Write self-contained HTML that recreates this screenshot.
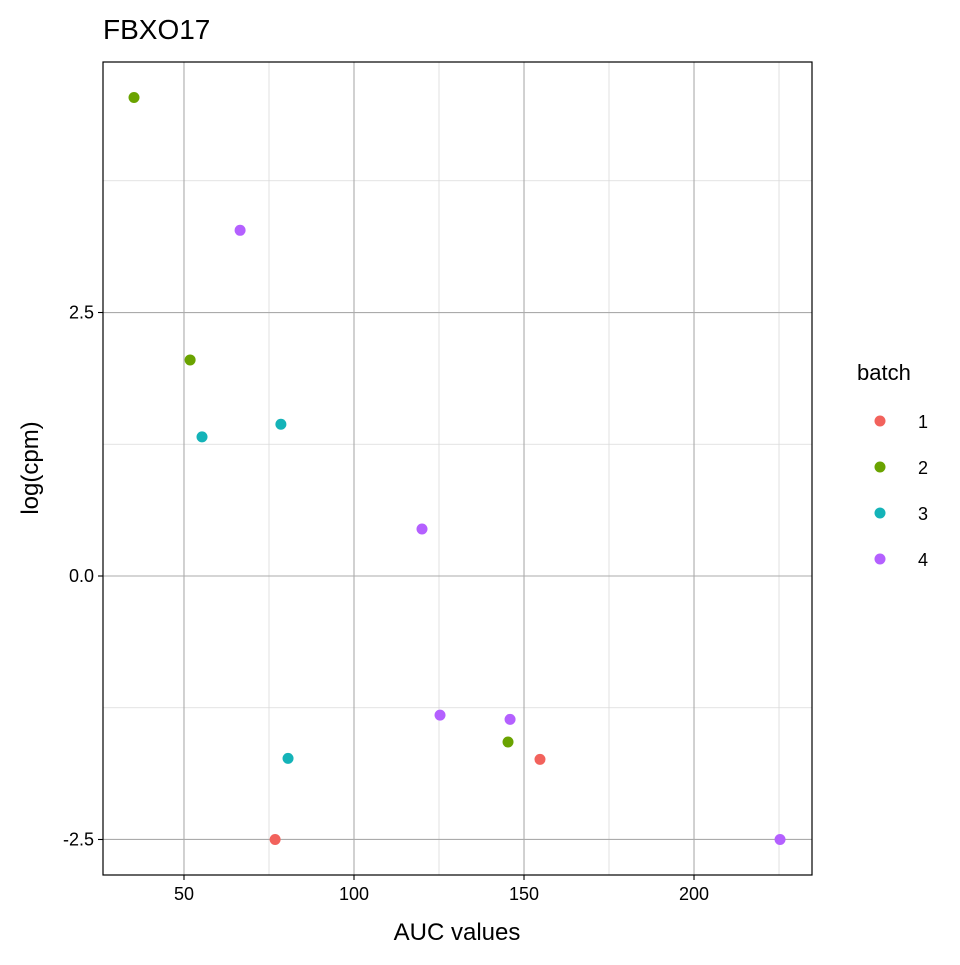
<!DOCTYPE html>
<html><head><meta charset="utf-8"><style>
body{margin:0;background:#fff;}
svg text{font-family:"Liberation Sans",Arial,sans-serif;}
</style></head><body>
<svg id="chart" width="960" height="960" viewBox="0 0 960 960">
<rect width="960" height="960" fill="#fff"/>
<g id="grid"></g>
<g id="points"></g>
<rect x="103" y="62" width="709" height="813" fill="none" stroke="#000" stroke-width="1.2"/>
<g id="ticks"></g>
<text x="103" y="39" font-size="28" fill="#000">FBXO17</text>
<text x="457" y="940" font-size="24" text-anchor="middle" fill="#000">AUC values</text>
<text transform="translate(38,468) rotate(-90)" font-size="24" text-anchor="middle" fill="#000">log(cpm)</text>
<g id="legend">
<text x="857" y="380" font-size="22" fill="#000">batch</text>
</g>
</svg>
<script>
const xs = [76.8,154.7,35.3,51.8,145.3,55.3,78.5,80.6,66.5,120.0,125.3,145.9,225.3];
const ys = [-2.50,-1.74,4.54,2.05,-1.575,1.32,1.44,-1.73,3.28,0.446,-1.32,-1.36,-2.50];
const batches = [1,1,2,2,2,3,3,3,4,4,4,4,4];
const batchLabels = ["1","2","3","4"];
const xTicks = [50,100,150,200];
const xMinor = [25,75,125,175,225];
const yTicks = [-2.5,0,2.5];
const yTickLabels = ["-2.5","0.0","2.5"];
const yMinor = [-1.25,1.25,3.75];
const colors = ["#F2625C","#6AA300","#14B3B8","#B460FF"];
const NS="http://www.w3.org/2000/svg";
const PL=103,PR=812,PT=62,PB=875;
const X0=26.18,X1=234.7,Y0=-2.837,Y1=4.877;
const sx=v=>PL+(v-X0)/(X1-X0)*(PR-PL);
const sy=v=>PB-(v-Y0)/(Y1-Y0)*(PB-PT);
function mk(tag,attrs,parent){const e=document.createElementNS(NS,tag);for(const k in attrs)e.setAttribute(k,attrs[k]);parent.appendChild(e);return e;}
const grid=document.getElementById('grid'),ticks=document.getElementById('ticks'),pts=document.getElementById('points'),leg=document.getElementById('legend');
xMinor.forEach(v=>{if(sx(v)<PL||sx(v)>PR)return;const l=mk('line',{x1:sx(v),x2:sx(v),y1:PT,y2:PB,stroke:'#d9d9d9','stroke-width':0.8},grid);

});
yMinor.forEach(v=>{const l=mk('line',{x1:PL,x2:PR,y1:sy(v),y2:sy(v),stroke:'#d9d9d9','stroke-width':0.8},grid);

});
xTicks.forEach(v=>{const l=mk('line',{x1:sx(v),x2:sx(v),y1:PT,y2:PB,stroke:'#ababab','stroke-width':1.1},grid);


const t=mk('line',{x1:sx(v),x2:sx(v),y1:PB,y2:PB+5,stroke:'#000','stroke-width':1.1},ticks);


const tx=mk('text',{x:sx(v),y:PB+25,'font-size':18,'text-anchor':'middle',fill:'#000'},ticks);tx.textContent=String(v);

});
yTicks.forEach((v,i)=>{const l=mk('line',{x1:PL,x2:PR,y1:sy(v),y2:sy(v),stroke:'#ababab','stroke-width':1.1},grid);


const t=mk('line',{x1:PL-5,x2:PL,y1:sy(v),y2:sy(v),stroke:'#000','stroke-width':1.1},ticks);


const tx=mk('text',{x:PL-9,y:sy(v)+6,'font-size':18,'text-anchor':'end',fill:'#000'},ticks);tx.textContent=yTickLabels[i];

});
xs.forEach((v,i)=>{const c=mk('circle',{cx:sx(v),cy:sy(ys[i]),r:5.5,fill:colors[batches[i]-1]},pts);

});
batchLabels.forEach((b,i)=>{const y=421+i*46;
const c=mk('circle',{cx:880,cy:y,r:5.5,fill:colors[i]},leg);


const t=mk('text',{x:918,y:y+7,'font-size':18,fill:'#000'},leg);t.textContent=b;

});
</script>
</body></html>
